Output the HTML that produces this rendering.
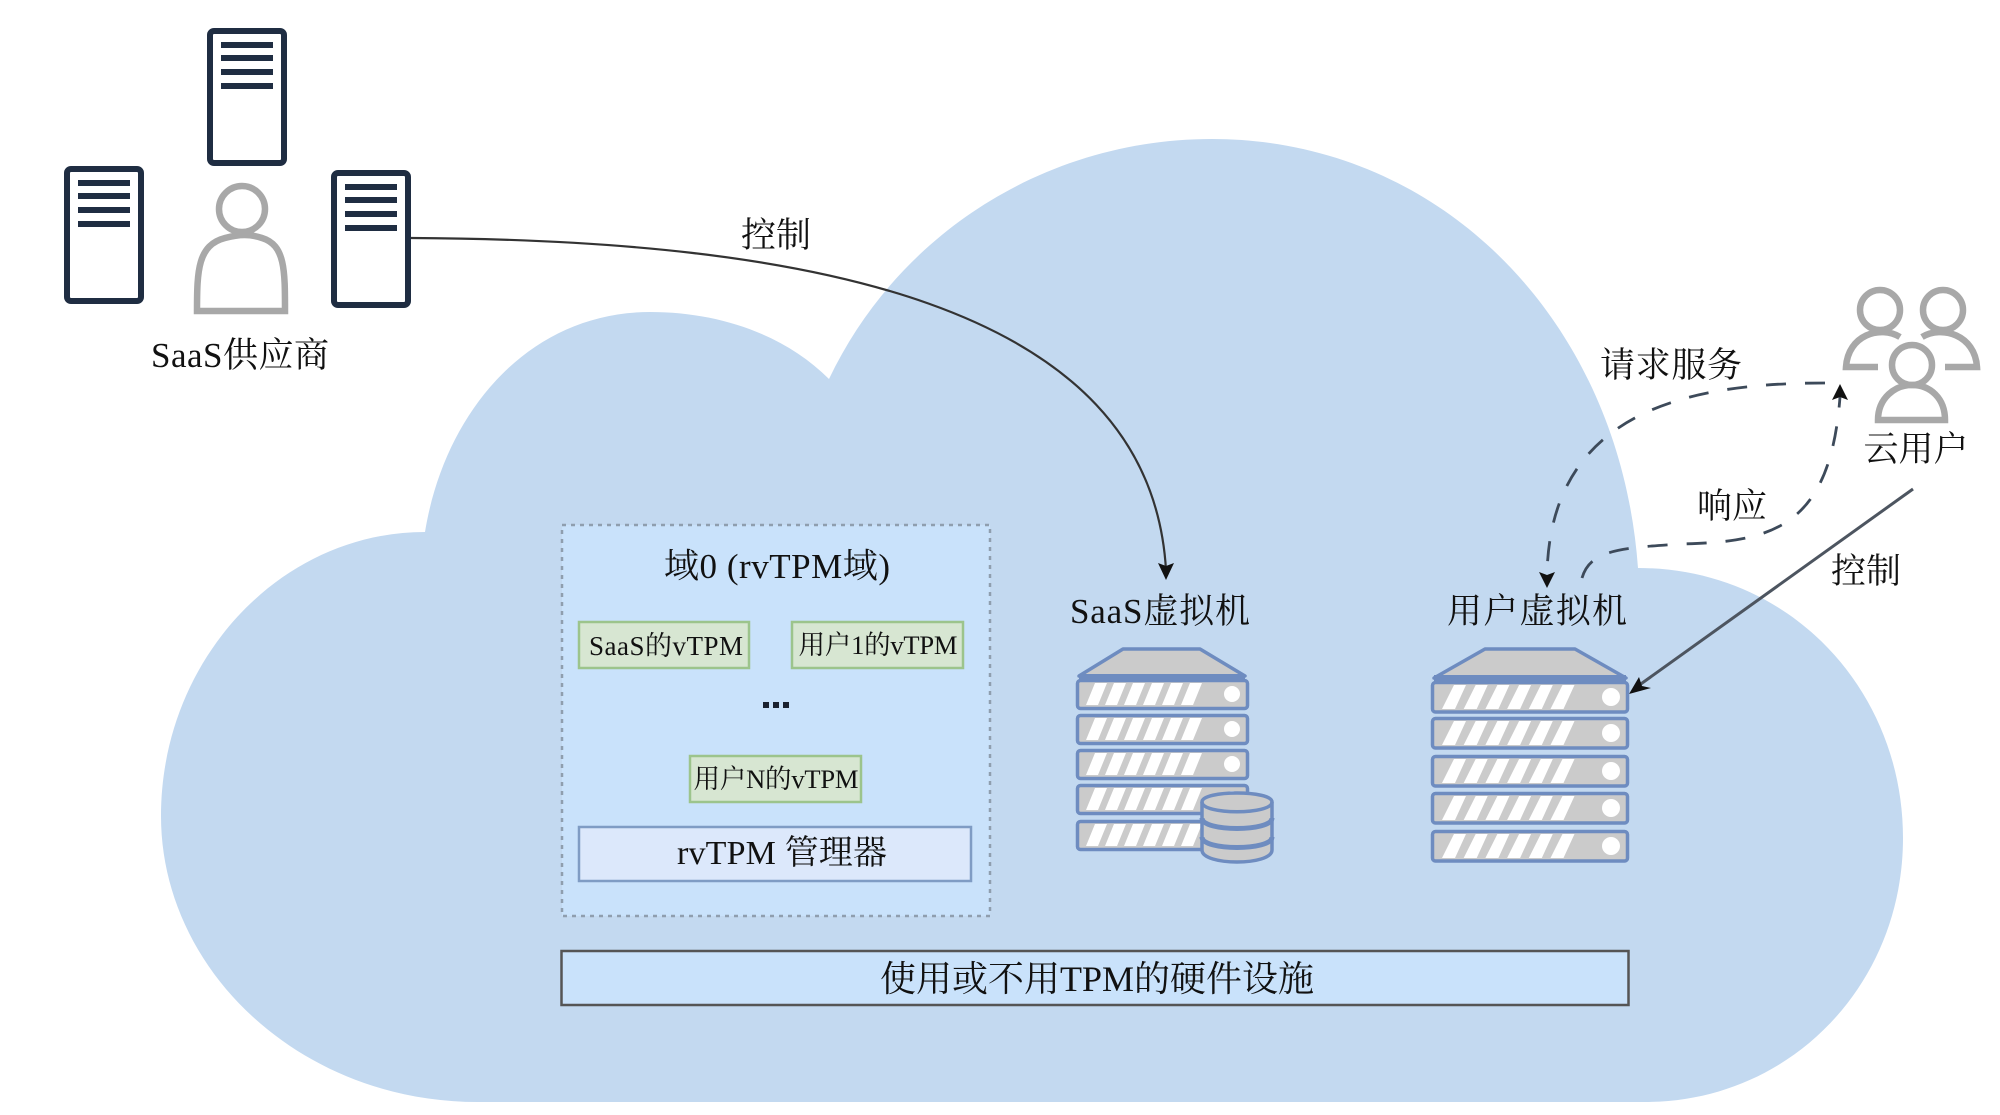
<!DOCTYPE html>
<html><head><meta charset="utf-8"><style>
html,body{margin:0;padding:0;background:#fff;width:2000px;height:1115px;overflow:hidden}
svg{display:block}
text{font-family:"Liberation Serif","Noto Serif CJK SC",serif;fill:#111;text-anchor:middle}
.srv{fill:#fff;stroke:#1f2d42;stroke-width:6}
.ln{fill:#1f2d42}
.gr{fill:none;stroke:#a8a8a8;stroke-width:6.5}
.row{fill:#cbcbcb;stroke:#6e8cc0;stroke-width:3.5}
.st{fill:#fff}
</style></head><body>
<svg width="2000" height="1115" viewBox="0 0 2000 1115" xmlns="http://www.w3.org/2000/svg">
<defs>
<g id="ts"><rect class="srv" x="3" y="3" width="74" height="132" rx="4"/><rect class="ln" x="14" y="14" width="52" height="6"/><rect class="ln" x="14" y="27" width="52" height="6"/><rect class="ln" x="14" y="41" width="52" height="6"/><rect class="ln" x="14" y="55" width="52" height="6"/></g>
<g id="r1"><rect class="row" x="1.500" y="1.500" width="170" height="28" rx="3"/><path class="st" d="M10 26L19 4H31L22 26ZM29 26L38 4H50L41 26ZM48 26L57 4H69L60 26ZM67 26L76 4H88L79 26ZM86 26L95 4H107L98 26ZM105 26L114 4H126L117 26Z"/><circle class="st" cx="156" cy="15" r="8"/></g>
<g id="r2"><rect class="row" x="1.500" y="1.500" width="195" height="29.500" rx="3"/><path class="st" d="M11 28L23 4H35L24 28ZM32.700 28L44.700 4H56.700L45.700 28ZM54.400 28L66.400 4H78.400L67.400 28ZM76.100 28L88.100 4H100.100L89.100 28ZM97.800 28L109.800 4H121.800L110.800 28ZM119.500 28L131.500 4H143.500L132.500 28Z"/><circle class="st" cx="180" cy="16" r="9"/></g>
</defs>

<path d="M478 1102C300 1102 161 970 161 816C161 660 280 532 425 532C445 410 530 312 650 312C720 312 785 335 829 379C900 230 1050 139 1212 139C1440 139 1620 320 1638 568C1790 568 1903 690 1903 838C1903 985 1790 1102 1645 1102Z" fill="#c3d9f0"/>

<use href="#ts" x="207" y="28"/><use href="#ts" x="64" y="166"/><use href="#ts" x="331" y="170"/>
<circle class="gr" cx="242" cy="209" r="23"/>
<path class="gr" d="M197 311C197 270 198 245 225 238C240 234 250 234 262 238C285 245 285 270 285 311Z"/>
<text x="240" y="367" font-size="35" textLength="178">SaaS供应商</text>

<path d="M411 238C800 240 1150 300 1166 570" fill="none" stroke="#333" stroke-width="2.200"/>
<path d="M1166 580L1158 563L1166 566L1174 563Z" fill="#111"/>
<text x="776" y="247" font-size="35">控制</text>

<path d="M1825 383C1690 383 1550 410 1547 575" fill="none" stroke="#3d4a5a" stroke-width="2.800" stroke-dasharray="20 19"/>
<path d="M1547 588L1539 572L1547 575L1555 572Z" fill="#111"/>
<path d="M1582 578C1590 550 1620 548 1680 544C1770 542 1830 530 1840 397" fill="none" stroke="#3d4a5a" stroke-width="2.800" stroke-dasharray="20 19"/>
<path d="M1840 384L1832 400L1840 397L1848 400Z" fill="#111"/>
<text x="1671" y="377" font-size="35" textLength="142">请求服务</text>
<text x="1732" y="518" font-size="35">响应</text>
<text x="1866" y="583" font-size="35">控制</text>

<circle class="gr" cx="1880" cy="310" r="20"/><circle class="gr" cx="1943" cy="310" r="20"/><circle class="gr" cx="1912" cy="365" r="20"/>
<path class="gr" d="M1900 337C1880 325 1848 335 1846 367H1878"/>
<path class="gr" d="M1922 337C1942 325 1975 335 1977 367H1945"/>
<path class="gr" d="M1878 420C1878 398 1895 385 1912 385C1930 385 1945 398 1945 420Z"/>
<text x="1916" y="461" font-size="35">云用户</text>

<path d="M1913 489L1638 686" fill="none" stroke="#4d5560" stroke-width="3"/>
<path d="M1629 694L1639 677L1642 686L1651 688Z" fill="#111"/>

<rect x="562" y="525" width="428" height="391" fill="#c9e2fb" stroke="#8f9eae" stroke-width="2.500" stroke-dasharray="4 5"/>
<text x="777" y="578" font-size="35" textLength="226">域0 (rvTPM域)</text>
<rect x="579" y="622" width="170" height="46" fill="#d7e6d2" stroke="#9cc48c" stroke-width="2.500"/>
<text x="666" y="655" font-size="27" textLength="154">SaaS的vTPM</text>
<rect x="792" y="622" width="171" height="46" fill="#d7e6d2" stroke="#9cc48c" stroke-width="2.500"/>
<text x="878" y="654" font-size="26.500" textLength="159">用户1的vTPM</text>
<rect x="763" y="702" width="6" height="6" fill="#1a2230"/><rect x="773" y="702" width="6" height="6" fill="#1a2230"/><rect x="783" y="702" width="6" height="6" fill="#1a2230"/>
<rect x="690" y="756" width="171" height="46" fill="#d7e6d2" stroke="#9cc48c" stroke-width="2.500"/>
<text x="776" y="788" font-size="26.500" textLength="165">用户N的vTPM</text>
<rect x="579" y="827" width="392" height="54" fill="#dce8fb" stroke="#7f9cc4" stroke-width="2.500"/>
<text x="782" y="864" font-size="34" textLength="210">rvTPM 管理器</text>

<text x="1160" y="623" font-size="35" textLength="180">SaaS虚拟机</text>
<path d="M1079 676L1123 649H1200L1245 676Z" fill="#cbcbcb" stroke="#6e8cc0" stroke-width="3.500" stroke-linejoin="round"/>
<rect x="1079" y="674" width="166" height="6" fill="#6e8cc0"/>
<use href="#r1" x="1076" y="679"/><use href="#r1" x="1076" y="714"/><use href="#r1" x="1076" y="749"/><use href="#r1" x="1076" y="784"/><use href="#r1" x="1076" y="820"/>
<g fill="#cbcbcb" stroke="#6e8cc0" stroke-width="3.500">
<path d="M1202 802C1202 790 1272 790 1272 802V850C1272 866 1202 866 1202 850Z"/>
<path d="M1202 802C1202 815 1272 815 1272 802" fill="none"/>
<path d="M1202 818C1202 832 1272 832 1272 818" fill="none" stroke-width="5"/>
<path d="M1202 837C1202 851 1272 851 1272 837" fill="none" stroke-width="5"/>
</g>

<text x="1537" y="623" font-size="35" textLength="180">用户虚拟机</text>
<path d="M1434 678L1485 649H1575L1626 678Z" fill="#cbcbcb" stroke="#6e8cc0" stroke-width="3.500" stroke-linejoin="round"/>
<rect x="1434" y="675" width="192" height="7" fill="#6e8cc0"/>
<use href="#r2" x="1431" y="681"/><use href="#r2" x="1431" y="717"/><use href="#r2" x="1431" y="755"/><use href="#r2" x="1431" y="792"/><use href="#r2" x="1431" y="830"/>

<rect x="561.500" y="951" width="1067" height="54" fill="#c9e2fb" stroke="#555" stroke-width="2.500"/>
<text x="1097" y="991" font-size="36" textLength="434">使用或不用TPM的硬件设施</text>
</svg>
</body></html>
